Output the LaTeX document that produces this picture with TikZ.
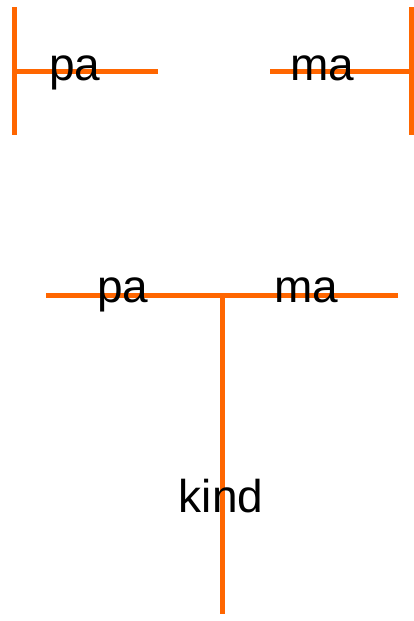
\documentclass[tikz,border=0pt]{standalone}
\usepackage{fontspec}
\setmainfont{Liberation Sans}
\usepackage{tikz}
\usetikzlibrary{positioning}
\definecolor{Orng}{HTML}{FF6600}
\tikzset{
  ln/.style={draw=Orng,line width=5pt},
  lb/.style={anchor=base,inner sep=0pt,text=black,font=\fontsize{46}{50}\selectfont},
}

\begin{document}
\begin{tikzpicture}[x=1pt,y=-1pt]
    \useasboundingbox (0,0) rectangle (414,621);

    % father and mother, apart
    \coordinate (pt) at (14,7);
    \coordinate (pb) at (14,135);
    \coordinate (pl) at (14,71);
    \coordinate (pr) at (158,71);
    \coordinate (mt) at (411,7);
    \coordinate (mb) at (411,135);
    \coordinate (ml) at (270,71);
    \coordinate (mr) at (411,71);
    \draw [ln] (pt) -- (pb);
    \draw [ln] (pl) -- (pr);
    \draw [ln] (mt) -- (mb);
    \draw [ln] (ml) -- (mr);

    % the couple with a child
    \coordinate (cl) at (46,295);
    \coordinate (cr) at (398,295);
    \coordinate (cm) at (222,295);
    \coordinate (cb) at (222,614);
    \draw [ln] (cl) -- (cr);
    \draw [ln] (cm) -- (cb);

    \node [lb] (pa1) at (75,80) {pa};
    \node [lb] (ma1) at (322,80) {ma};
    \node [lb] (pa2) at (123,302) {pa};
    \node [lb] (ma2) at (306,302) {ma};
    \node [lb] (kind) at (221,512) {kind};
  \end{tikzpicture}
\end{document}
